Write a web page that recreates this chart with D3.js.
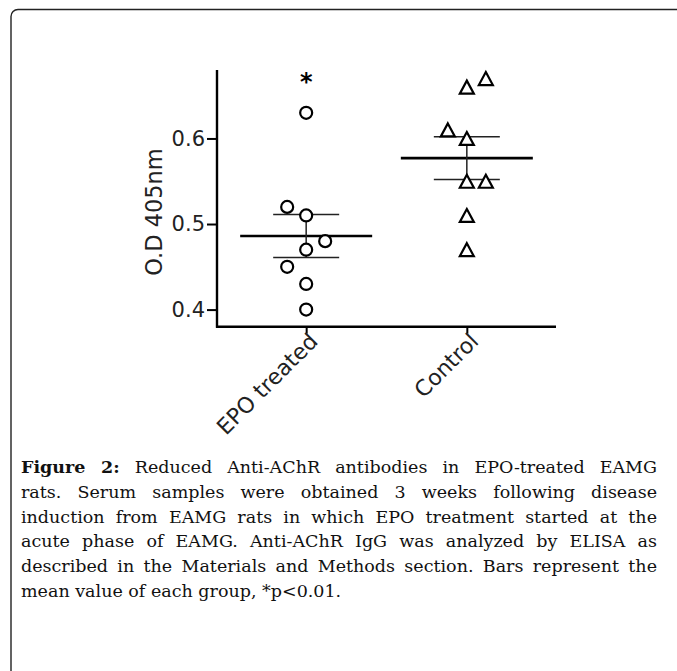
<!DOCTYPE html>
<html>
<head>
<meta charset="utf-8">
<script src="https://cdn.jsdelivr.net/npm/d3@7"></script>
<style>
  html, body { margin: 0; padding: 0; background: #fff; overflow: hidden; }
  #vis { position: absolute; left: 0; top: 0; }
  #caption {
    position: absolute; left: 21px; top: 455px; width: 636px;
    font-family: "DejaVu Serif", serif; font-size: 17.5px; line-height: 24.8px; color: #111;
  }
  #caption div { text-align: justify; text-align-last: justify; white-space: nowrap; }
  #caption div.last { text-align-last: left; }
</style>
</head>
<body>
<div id="vis"></div>
<div id="caption"></div>
<script>
document.addEventListener('DOMContentLoaded', function () {

    // data
    var groups = ['EPO treated', 'Control'];
    var epoValues = [0.63, 0.52, 0.51, 0.48, 0.47, 0.45, 0.43, 0.40];
    var epoJitter = [0, -1, 0, 1, 0, -1, 0, 0];   // column slot of each point
    var ctrlValues = [0.67, 0.66, 0.61, 0.60, 0.55, 0.55, 0.51, 0.47];
    var ctrlJitter = [1, 0, -1, 0, 0, 1, 0, 0];
    var means = [0.486, 0.577];
    var sems = [0.025, 0.025];
    var yTicks = [0.4, 0.5, 0.6];
    var captionLines = [
        'Reduced Anti-AChR antibodies in EPO-treated EAMG',
        'rats. Serum samples were obtained 3 weeks following disease',
        'induction from EAMG rats in which EPO treatment started at the',
        'acute phase of EAMG. Anti-AChR IgG was analyzed by ELISA as',
        'described in the Materials and Methods section. Bars represent the',
        'mean value of each group, *p<0.01.'
    ];

    //setup drawing area
    var svgW = 677;
    var svgH = 671;
    var svg = d3.select('#vis').append('svg').attr('width', svgW).attr('height', svgH);
    var g = svg.append('g');

    // figure frame, only top-left corner visible
    g.append('rect').attr('x', 11).attr('y', 9.5).attr('width', 720).attr('height', 720)
        .attr('rx', 7).style('fill', 'none').style('stroke', '#222').style('stroke-width', 1.4);

    var axisX0 = 217, axisX1 = 556, axisY = 326.7, axisTop = 70;
    var y = d3.scaleLinear().domain([0.38, 0.68]).range([axisY, axisTop]);
    var x = d3.scalePoint().domain(groups).range([axisX0, axisX1]).padding(0.555);
    var jit = 19;

    var font = '"DejaVu Sans", Verdana, sans-serif';

    // y axis
    var yAxis = g.append('g').attr('transform', 'translate(' + axisX0 + ',0)')
        .call(d3.axisLeft(y).tickValues(yTicks).tickFormat(d3.format('.1f')).tickSize(10).tickPadding(2));
    yAxis.select('.domain').remove();
    yAxis.selectAll('.tick line').style('stroke', '#000').style('stroke-width', 2);
    yAxis.selectAll('.tick text').style('font-family', font).style('font-size', '21px').style('fill', '#222');
    g.append('line').attr('x1', axisX0).attr('x2', axisX0).attr('y1', axisTop).attr('y2', axisY + 1)
        .style('stroke', '#000').style('stroke-width', 2.4);

    // x axis
    var xAxis = g.append('g').attr('transform', 'translate(0,' + axisY + ')')
        .call(d3.axisBottom(x).tickSize(7).tickFormat(''));
    xAxis.select('.domain').remove();
    xAxis.selectAll('.tick line').style('stroke', '#000').style('stroke-width', 2);
    g.append('line').attr('x1', axisX0 - 1).attr('x2', axisX1).attr('y1', axisY).attr('y2', axisY)
        .style('stroke', '#000').style('stroke-width', 2.4);

    g.selectAll('.xLabel').data(groups).enter().append('text').attr('class', 'xLabel')
        .text(String)
        .attr('text-anchor', 'end')
        .attr('transform', function (d) { return 'translate(' + (x(d) + 13) + ',' + (axisY + 16) + ') rotate(-45)'; })
        .style('font-family', font).style('font-size', '22px').style('fill', '#222');

    // y label
    g.append('text').text('O.D 405nm')
        .attr('text-anchor', 'middle')
        .attr('transform', 'translate(162,212) rotate(-90)')
        .style('font-family', font).style('font-size', '22.5px').style('fill', '#222');

    // mean and sem bars
    groups.forEach(function (grp, i) {
        var cx = x(grp);
        g.append('line').attr('x1', cx - 66).attr('x2', cx + 66).attr('y1', y(means[i])).attr('y2', y(means[i]))
            .style('stroke', '#000').style('stroke-width', 2.6);
        [means[i] + sems[i], means[i] - sems[i]].forEach(function (v) {
            g.append('line').attr('x1', cx - 33).attr('x2', cx + 33).attr('y1', y(v)).attr('y2', y(v))
                .style('stroke', '#222').style('stroke-width', 1.5);
        });
        g.append('line').attr('x1', cx).attr('x2', cx).attr('y1', y(means[i] + sems[i])).attr('y2', y(means[i] - sems[i]))
            .style('stroke', '#222').style('stroke-width', 1.5);
    });

    // circles
    g.selectAll('.epo').data(epoValues).enter().append('circle').attr('class', 'epo')
        .attr('cx', function (d, i) { return x(groups[0]) + epoJitter[i] * jit; })
        .attr('cy', function (d) { return y(d); })
        .attr('r', 6)
        .style('fill', '#fff').style('stroke', '#000').style('stroke-width', 2.2);

    // triangles
    g.selectAll('.ctrl').data(ctrlValues).enter().append('path').attr('class', 'ctrl')
        .attr('d', 'M0,-6.5L7,6.5L-7,6.5Z')
        .attr('transform', function (d, i) {
            return 'translate(' + (x(groups[1]) + ctrlJitter[i] * jit) + ',' + y(d) + ')';
        })
        .style('fill', '#fff').style('stroke', '#000').style('stroke-width', 2.2).style('stroke-linejoin', 'miter');

    // significance star
    g.append('text').text('*').attr('x', x(groups[0])).attr('y', 90)
        .attr('text-anchor', 'middle')
        .style('font-family', font).style('font-size', '24px').style('font-weight', 'bold').style('fill', '#000');

    // caption
    var cap = d3.select('#caption');
    captionLines.forEach(function (line, i) {
        var div = cap.append('div');
        if (i === captionLines.length - 1) div.attr('class', 'last');
        if (i === 0) div.append('b').text('Figure 2:');
        div.append('span').text((i === 0 ? ' ' : '') + line);
    });
});
</script>
</body>
</html>
